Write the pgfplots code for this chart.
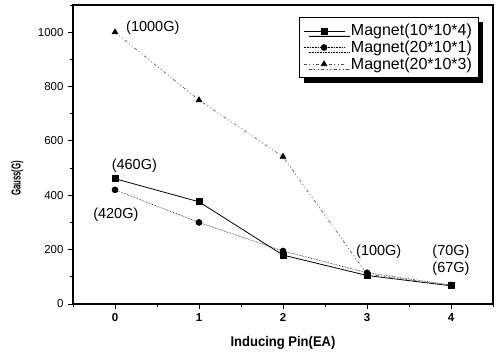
\documentclass[border=0pt]{standalone}
\usepackage{pgfplots}
\pgfplotsset{compat=1.18}
\usepackage{fontspec}
\setmainfont{Liberation Sans}
\usetikzlibrary{shadows}
\begin{document}
\begin{tikzpicture}
\begin{axis}[
  scale only axis,
  width=420pt, height=299pt,
  xmin=-0.5, xmax=4.5, ymin=0, ymax=1100,
  xtick={0,1,2,3,4},
  ytick={0,200,400,600,800,1000},
  minor xtick={-0.5,0.5,1.5,2.5,3.5,4.5},
  minor ytick={100,300,500,700,900,1100},
  tick align=outside,
  tick pos=left,
  major tick length=5pt, minor tick length=3pt,
  axis line style={line width=1.1pt},
  every tick/.style={black, line width=0.9pt},
  xticklabel style={font=\fontsize{11.5}{13}\selectfont\bfseries, yshift=-1pt},
  yticklabel style={font=\fontsize{11.5}{13}\selectfont, xshift=-1pt},
  /pgf/number format/assume math mode=true,
  /pgf/number format/1000 sep={},
  xlabel={\scalebox{0.93}[1]{\textbf{Inducing Pin(EA)}}},
  ylabel={\scalebox{0.6}[1]{\textbf{Gauss(G)}}},
  every axis x label/.style={at={(axis description cs:0.5,0)}, anchor=center, yshift=-39pt, font=\fontsize{14}{16}\selectfont},
  every axis y label/.style={at={(axis description cs:-0.133,0.42)}, anchor=center, rotate=90, font=\fontsize{13}{15}\selectfont},
  legend style={at={(rel axis cs:0.965,0.96)}, anchor=north east, draw=black, line width=0.8pt,
    fill=white, font=\fontsize{16}{17}\selectfont, row sep=-0.5pt, column sep=4pt,
    drop shadow={shadow xshift=5pt, shadow yshift=-5pt, fill=black, opacity=1},
    inner xsep=4pt, inner ysep=5pt},
  legend cell align=left,
  legend image code/.code={\draw[mark repeat=2,mark phase=2,#1] plot coordinates {(0cm,0cm)(0.72cm,0cm)(1.44cm,0cm)};},
]
\addplot[black, line width=0.8pt, mark=square*, mark size=3pt, mark options={solid}]
  coordinates {(0,461) (1,376) (2,180) (3,105) (4,67)};
\addlegendentry{Magnet(10*10*4)}
\addplot[black, line width=0.6pt, densely dotted, mark=*, mark size=3pt, mark options={solid}]
  coordinates {(0,420) (1,300) (2,195) (3,115) (4,70)};
\addlegendentry{Magnet(20*10*1)}
\addplot[black!70, line width=0.6pt, dash pattern=on 3pt off 2.5pt on 1pt off 2.5pt on 1pt off 2.5pt, mark=triangle*, mark size=3.3pt, mark options={solid, black}]
  coordinates {(0,1000) (1,750) (2,542) (3,110) (4,68)};
\addlegendentry{Magnet(20*10*3)}
\node[font=\fontsize{14.5}{16}\selectfont] at (axis cs:0.45,1018) {(1000G)};
\node[font=\fontsize{14.5}{16}\selectfont] at (axis cs:0.23,509) {(460G)};
\node[font=\fontsize{14.5}{16}\selectfont] at (axis cs:0.01,328) {(420G)};
\node[font=\fontsize{14.5}{16}\selectfont] at (axis cs:3.14,192) {(100G)};
\node[font=\fontsize{14.5}{16}\selectfont] at (axis cs:4.0,192) {(70G)};
\node[font=\fontsize{14.5}{16}\selectfont] at (axis cs:4.0,129) {(67G)};
\end{axis}
\pgfresetboundingbox
\path (current axis.south west) +(-73pt,-50pt) (current axis.north east) +(6pt,5pt);
\end{tikzpicture}
\end{document}
